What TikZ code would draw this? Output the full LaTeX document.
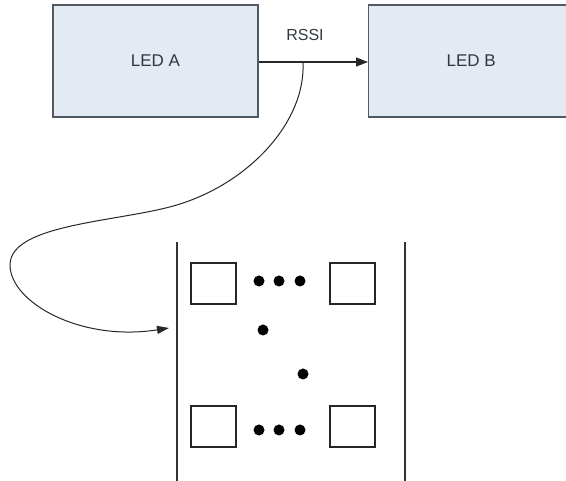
\documentclass[tikz,border=0pt]{standalone}
\usepackage{fontspec}
\setmainfont{Liberation Sans}
\usetikzlibrary{arrows.meta}
\definecolor{ledfill}{HTML}{E4EAF2}
\definecolor{ledline}{HTML}{505A64}
\definecolor{labeltext}{HTML}{333840}
\begin{document}
\begin{tikzpicture}[x=1pt,y=-1pt,
  ledbox/.style={draw=ledline,fill=ledfill,line width=1.4pt,minimum width=205pt,minimum height=112pt,inner sep=0pt,font=\fontsize{17}{20}\selectfont,text=labeltext},
  cell/.style={draw=black!85,line width=1.1pt,minimum width=45pt,minimum height=41pt,inner sep=0pt},
  dotmark/.style={circle,fill=black,minimum size=11pt,inner sep=0pt},
  wall/.style={draw=black!80,line width=1.1pt},
  link/.style={draw=black!85,line width=1.1pt}]
\useasboundingbox (0,0) rectangle (566,481);
% the two LED units
\node[ledbox] (ledA) at (155.5,61) {LED A};
\node[ledbox,anchor=west] (ledB) at (368,61) {LED B};
% RSSI link between them
\draw[link,-{Triangle[length=12pt,width=9pt]}] (ledA.east|-0,62) -- (ledB.west|-0,62);
\node[font=\fontsize{16}{19}\selectfont,text=labeltext] (rssi) at (305,35) {RSSI};
% receiver matrix
\coordinate (wallLtop) at (177,242);
\coordinate (wallLbot) at (177,483);
\coordinate (wallRtop) at (405,242);
\coordinate (wallRbot) at (405,483);
\draw[wall] (wallLtop) -- (wallLbot);
\draw[wall] (wallRtop) -- (wallRbot);
\node[cell] (c11) at (213.5,283.5) {};
\node[cell] (c1n) at (352.5,283.5) {};
\node[cell] (cm1) at (213.5,426.5) {};
\node[cell] (cmn) at (352.5,426.5) {};
\foreach \x [count=\i] in {259,279,300}{
  \node[dotmark] (top\i) at (\x,281) {};
  \node[dotmark] (bot\i) at (\x,430) {};
}
\node[dotmark] (mid1) at (263,330) {};
\node[dotmark] (mid2) at (303,374) {};
% feedback of the measured RSSI into the matrix
\coordinate (tap) at (303,62);
\coordinate (entry) at (169,328);
\draw[link,line width=1pt,-{Triangle[length=12pt,width=8pt]}] (tap)
  .. controls (306,120) and (252,180) .. (183,203)
  .. controls (128,222) and (10,222) .. (10,265)
  .. controls (10,302) and (80,342) .. (entry);
\end{tikzpicture}
\end{document}
